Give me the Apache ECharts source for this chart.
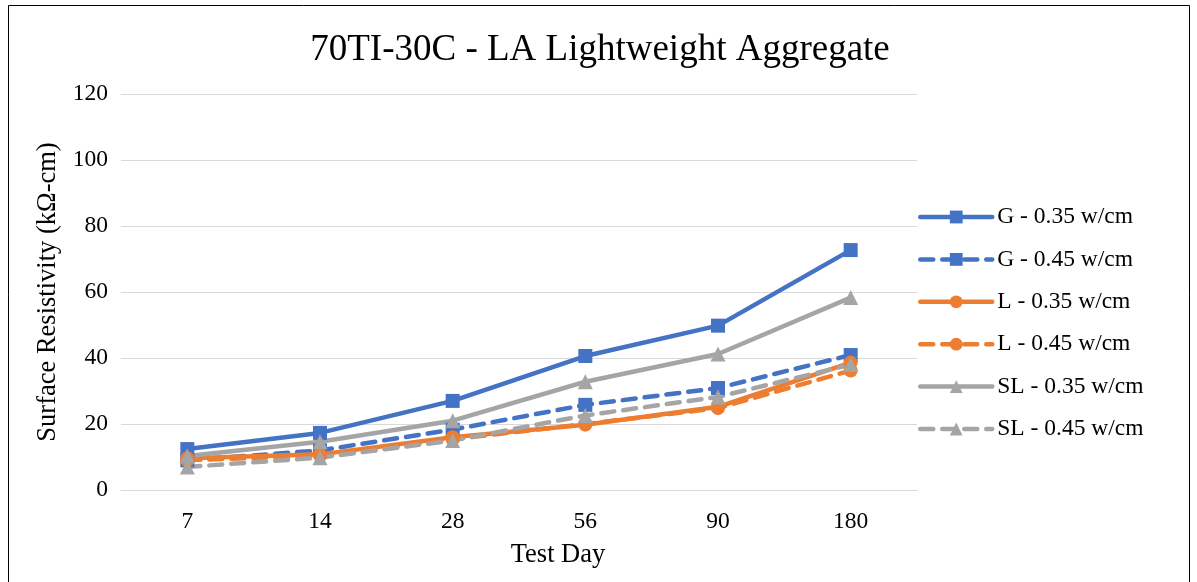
<!DOCTYPE html>
<html><head><meta charset="utf-8">
<script src="https://cdn.jsdelivr.net/npm/echarts@6/dist/echarts.min.js"></script>
<style>html,body{margin:0;padding:0;background:#fff}#c{width:1197px;height:582px}</style>
</head><body><div id="c"></div>
<script>
const categories = ['7','14','28','56','90','180'];
const g035 = [12.4, 17.3, 27.0, 40.6, 49.8, 72.7];
const g045 = [9.0, 12.0, 18.3, 25.8, 30.9, 40.9];
const l035 = [9.6, 10.8, 16.0, 19.8, 25.2, 38.6];
const l045 = [9.0, 10.4, 15.4, 20.0, 24.8, 36.2];
const sl035 = [10.3, 14.6, 21.0, 32.8, 41.2, 58.3];
const sl045 = [7.0, 9.8, 15.0, 22.6, 28.2, 38.0];
const seriesNames = ['G - 0.35 w/cm','G - 0.45 w/cm','L - 0.35 w/cm','L - 0.45 w/cm','SL - 0.35 w/cm','SL - 0.45 w/cm'];

const font = 'Liberation Serif, Times New Roman, serif';
const BLUE = '#4472C4', ORANGE = '#ED7D31', GRAY = '#A5A5A5';
function mk(name, data, color, dashed, symbol) {
  return {
    name, type: 'line', data, symbol, symbolSize: symbol === 'triangle' ? 15 : 14,
    itemStyle: { color },
    lineStyle: { color, width: 4.5, type: dashed ? [13, 9] : 'solid', cap: 'round' },
    emphasis: { disabled: true }, animation: false
  };
}
const chart = echarts.init(document.getElementById('c'), null, { renderer: 'canvas' });
chart.setOption({
  animation: false,
  backgroundColor: '#fff',
  title: { text: '70TI-30C - LA Lightweight Aggregate', left: 595, textAlign: 'center', top: 27,
    textStyle: { fontFamily: font, fontSize: 37, fontWeight: 'normal', color: '#000' } },
  graphic: [{ type: 'rect', shape: { x: 8.5, y: 5.5, width: 1181, height: 590 }, style: { fill: 'none', stroke: '#000', lineWidth: 1 }, silent: true }],
  legend: {
    orient: 'vertical', left: 918, top: 205, padding: 0, itemWidth: 72, itemHeight: 16, itemGap: 18.4,
    data: seriesNames,
    lineStyle: { width: 4.5 },
    textStyle: { fontFamily: font, fontSize: 23.5, color: '#000' }
  },
  grid: { left: 121, right: 280, top: 94, bottom: 92 },
  xAxis: {
    type: 'category', data: categories, boundaryGap: true,
    name: 'Test Day', nameLocation: 'middle', nameGap: 52,
    nameTextStyle: { fontFamily: font, fontSize: 26.5, color: '#000', padding: [0, 0, 0, 78] },
    axisLine: { show: true, lineStyle: { color: '#D9D9D9', width: 1 } },
    axisTick: { show: false },
    axisLabel: { fontFamily: font, fontSize: 23.5, color: '#000', margin: 20 }
  },
  yAxis: {
    type: 'value', min: 0, max: 120, interval: 20,
    name: 'Surface Resistivity (kΩ-cm)', nameLocation: 'middle', nameGap: 58,
    nameTextStyle: { fontFamily: font, fontSize: 26.5, color: '#000' },
    axisLine: { show: false }, axisTick: { show: false },
    splitLine: { lineStyle: { color: '#D9D9D9', width: 1 } },
    axisLabel: { fontFamily: font, fontSize: 23.5, color: '#000', margin: 13 }
  },
  series: [
    mk(seriesNames[0], g035, BLUE, false, 'rect'),
    mk(seriesNames[1], g045, BLUE, true, 'rect'),
    mk(seriesNames[2], l035, ORANGE, false, 'circle'),
    mk(seriesNames[3], l045, ORANGE, true, 'circle'),
    mk(seriesNames[4], sl035, GRAY, false, 'triangle'),
    mk(seriesNames[5], sl045, GRAY, true, 'triangle')
  ]
});
</script></body></html>
